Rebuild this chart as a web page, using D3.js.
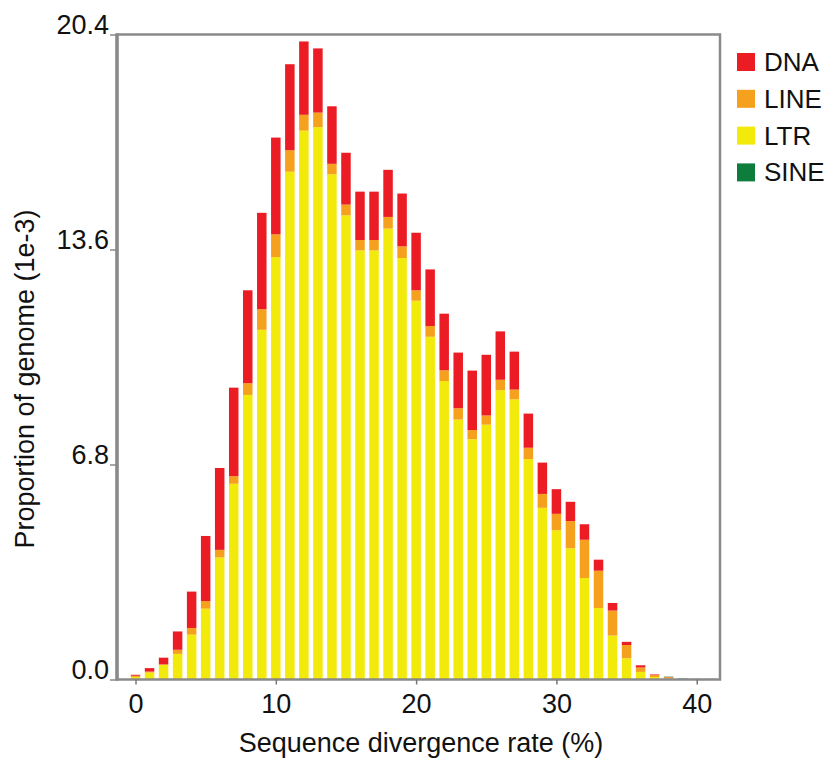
<!DOCTYPE html>
<html><head><meta charset="utf-8">
<script src="https://cdn.jsdelivr.net/npm/d3@7"></script>
<style>
html,body{margin:0;padding:0;background:#fff;}
text{font-family:"Liberation Sans",Arial,sans-serif;fill:#111;}
</style></head>
<body>
<svg id="chart" width="831" height="765"></svg>
<script>
// divergence bins (%)
const bins = d3.range(0, 42);
const LTR  = [0.08,0.22,0.46,0.81,1.42,2.24,3.86,6.19,9.00,11.06,13.36,16.06,17.36,17.47,15.98,14.68,13.57,13.57,14.26,13.33,11.98,10.84,9.44,8.22,7.60,8.06,9.15,8.86,6.97,5.43,4.72,4.15,3.21,2.26,1.39,0.67,0.24,0.08,0.03,0.01,0.00,0.00];
const LINE = [0.04,0.03,0.02,0.13,0.21,0.24,0.24,0.24,0.37,0.65,0.72,0.68,0.50,0.46,0.33,0.34,0.33,0.33,0.37,0.37,0.33,0.34,0.34,0.36,0.29,0.29,0.33,0.31,0.36,0.44,0.52,0.86,1.21,1.18,0.79,0.42,0.14,0.06,0.04,0.00,0.00,0.00];
const DNA  = [0.03,0.11,0.21,0.58,1.15,2.06,2.59,2.80,2.94,3.05,3.06,2.72,2.32,2.03,1.82,1.64,1.53,1.53,1.49,1.67,1.82,1.79,1.79,1.76,1.88,1.92,1.53,1.20,1.08,0.99,0.78,0.61,0.49,0.35,0.24,0.10,0.07,0.02,0.01,0.00,0.00,0.00];
const SINE = [0,0,0,0,0,0,0,0,0,0,0,0,0,0,0,0,0,0,0,0,0,0,0,0,0,0,0,0,0,0,0,0,0,0,0,0,0,0,0.01,0.02,0.02,0.02];
const seriesNames = ["LTR","LINE","DNA","SINE"];
const legendNames = ["DNA","LINE","LTR","SINE"];
const colors = {DNA:"#ec1c24", LINE:"#f6a11d", LTR:"#f2ea0b", SINE:"#0e7d3c"};
const xTicks = [0,10,20,30,40];
const yTicks = [0.0, 6.8, 13.6, 20.4];

const svg = d3.select("#chart");
const L = 117, R = 720, T = 34.5, B = 679.5;
const x = d3.scaleLinear().domain([-1.32, 41.66]).range([L, R]);
const y = d3.scaleLinear().domain([0, 20.4]).range([B, T]);

const rows = bins.map((b,i)=>({bin:b, LTR:LTR[i], LINE:LINE[i], DNA:DNA[i], SINE:SINE[i]}));
const stack = d3.stack().keys(seriesNames)(rows);
const bw = 9.5;

svg.append("g").selectAll("g").data(stack).join("g")
  .attr("fill", d=>colors[d.key])
  .selectAll("rect").data(d=>d).join("rect")
  .attr("x", d=>x(d.data.bin)-bw/2)
  .attr("width", bw)
  .attr("y", d=>y(d[1]))
  .attr("height", d=>Math.max(0, y(d[0])-y(d[1])));

// frame
svg.append("rect").attr("x",L).attr("y",T).attr("width",R-L).attr("height",B-T)
  .attr("fill","none").attr("stroke","#8a8a8a").attr("stroke-width",2.5);
svg.append("line").attr("x1",L).attr("x2",L).attr("y1",T-1).attr("y2",B+1)
  .attr("stroke","#8a8a8a").attr("stroke-width",3.5);

// x axis
const xa = svg.append("g").attr("transform",`translate(0,${B})`)
  .call(d3.axisBottom(x).tickValues(xTicks).tickSize(5).tickPadding(9).tickFormat(d3.format("d")));
xa.select(".domain").remove();
xa.selectAll("line").attr("stroke","#777").attr("stroke-width",1.5);
xa.selectAll("text").attr("font-size",27).attr("fill","#111").style("font-family","'Liberation Sans',Arial,sans-serif");

// y axis
const ya = svg.append("g").attr("transform",`translate(${L},0)`)
  .call(d3.axisLeft(y).tickValues(yTicks).tickSize(7).tickPadding(1).tickFormat(d3.format(".1f")));
ya.select(".domain").remove();
ya.selectAll("line").attr("stroke","#888").attr("stroke-width",1.5);
ya.selectAll("text").attr("font-size",27).attr("fill","#111").attr("dy","-0.05em")
  .style("font-family","'Liberation Sans',Arial,sans-serif");

// titles
svg.append("text").attr("x",421).attr("y",752).attr("text-anchor","middle")
  .attr("font-size",27).text("Sequence divergence rate (%)");
svg.append("text").attr("transform","translate(34,379) rotate(-90)").attr("text-anchor","middle")
  .attr("font-size",27).text("Proportion of genome (1e-3)");

// legend
const lg = svg.append("g").attr("transform","translate(737,53)");
legendNames.forEach((n,i)=>{
  const g = lg.append("g").attr("transform",`translate(0,${i*36.8})`);
  g.append("rect").attr("width",18).attr("height",18).attr("fill",colors[n]);
  g.append("text").attr("x",27).attr("y",18).attr("font-size",26).text(n);
});
</script>
</body></html>
